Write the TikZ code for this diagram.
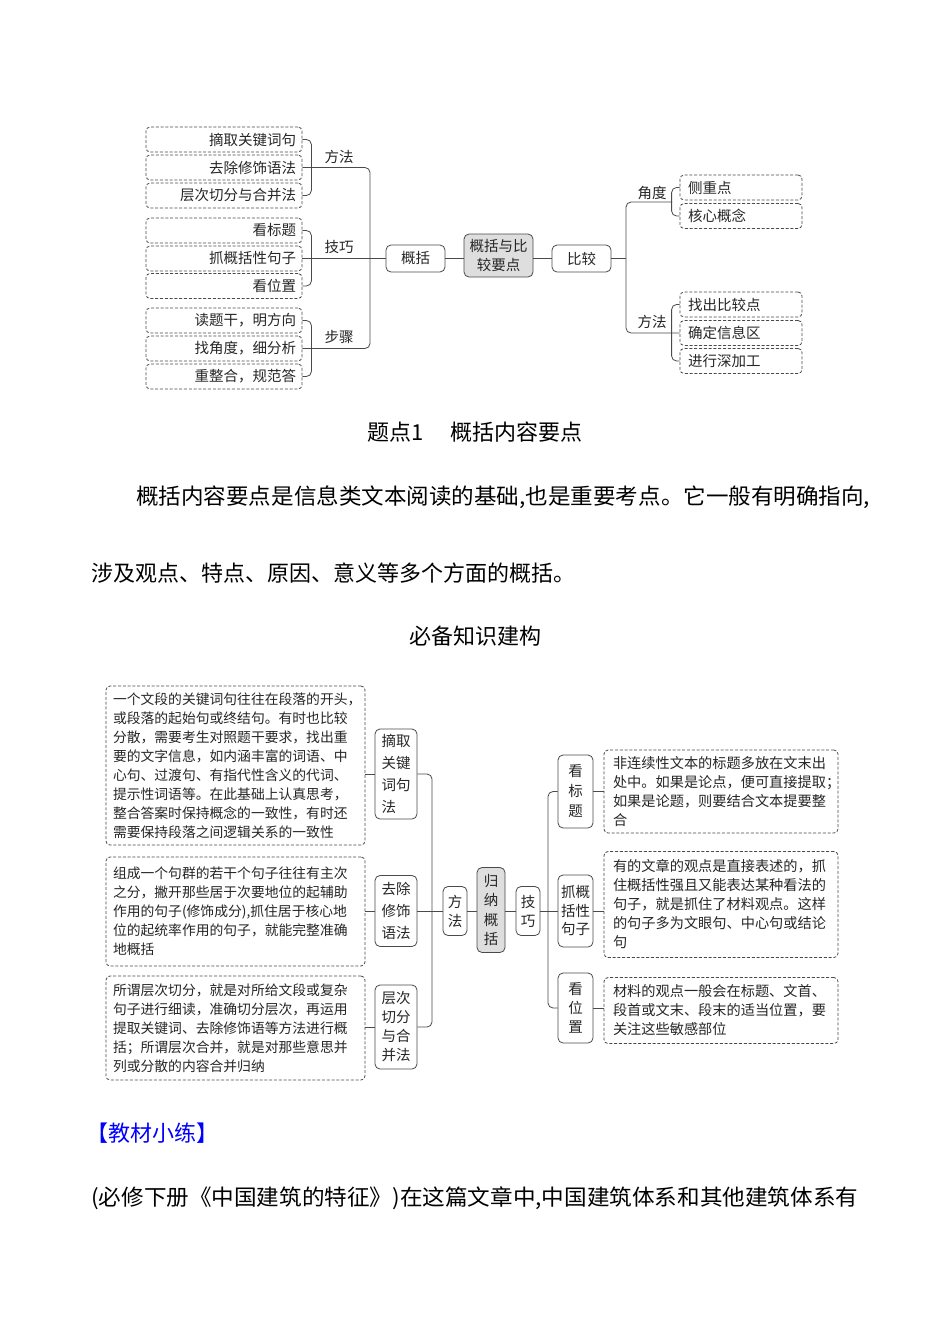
\documentclass[tikz,border=0pt]{standalone}
\usepackage{fontspec}
\setmainfont{Noto Sans CJK SC}
\usepackage{graphicx}
\newcommand\fTop{\fontsize{14.5}{19}\selectfont}
\newcommand\fLeft{\fontsize{13.8}{19}\selectfont}
\newcommand\fRight{\fontsize{14.2}{19}\selectfont}
\newcommand\fBody{\fontsize{22}{26}\selectfont}
\definecolor{lineclr}{HTML}{4A4A4A}
\definecolor{txtclr}{HTML}{262626}
\definecolor{grayfill}{HTML}{DEDEDE}
\tikzset{
  dline/.style={draw=lineclr, line width=0.8pt, dash pattern=on 3pt off 1.8pt, rounded corners=4pt},
  tboxl/.style={dline, minimum width=156pt, minimum height=25pt, text width=144pt, align=right, inner xsep=6pt, inner ysep=0pt, font=\fTop, text=txtclr},
  tboxr/.style={dline, minimum width=122pt, minimum height=25pt, text width=106pt, align=left, inner xsep=8pt, inner ysep=0pt, font=\fTop, text=txtclr},
  sbox/.style={draw=lineclr, line width=0.8pt, rounded corners=5pt, inner sep=0pt, text=txtclr},
  lbl/.style={inner sep=0pt, font=\fTop, text=txtclr},
  lbox/.style={dline, minimum width=259pt, text width=245pt, align=left, inner xsep=7pt, inner ysep=0pt, font=\fLeft, text=txtclr},
  rbox/.style={dline, minimum width=234pt, text width=216pt, align=left, inner xsep=9pt, inner ysep=0pt, font=\fRight, text=txtclr},
  conn/.style={draw=lineclr, line width=0.8pt, rounded corners=5pt},
  body/.style={inner sep=0pt, font=\fBody, text=black},
}
\begin{document}
\begin{tikzpicture}[x=1pt,y=-1pt]
\useasboundingbox (0,0) rectangle (950,1344);
\fill[white] (0,0) rectangle (950,1344);

% ---------------- top diagram ----------------
\node[tboxl] (b1) at (224,139.5) {摘取关键词句};
\node[tboxl] (b2) at (224,167.5) {去除修饰语法};
\node[tboxl] (b3) at (224,195.5) {层次切分与合并法};
\node[tboxl] (b4) at (224,230.5) {看标题};
\node[tboxl] (b5) at (224,258.5) {抓概括性句子};
\node[tboxl] (b6) at (224,286) {看位置};
\node[tboxl] (b7) at (224,320.5) {读题干，明方向};
\node[tboxl] (b8) at (224,348.5) {找角度，细分析};
\node[tboxl] (b9) at (224,376.5) {重整合，规范答};

\node[lbl] (l1) at (339,157) {方法};
\node[lbl] (l2) at (339,247) {技巧};
\node[lbl] (l3) at (339,337) {步骤};

\node[sbox, minimum width=59pt, minimum height=27pt, font=\fTop] (gk) at (415.5,258.5) {概括};
\node[sbox, fill=grayfill, minimum width=69pt, minimum height=43pt, align=center, font=\fontsize{14.5}{19}\selectfont] (zh) at (498.5,255.5) {概括与比\\较要点};
\node[sbox, minimum width=59pt, minimum height=27pt, font=\fTop] (bj) at (581.5,258.5) {比较};

\node[tboxr] (c1) at (741,187.5) {侧重点};
\node[tboxr] (c2) at (741,216) {核心概念};
\node[tboxr] (c3) at (741,304.5) {找出比较点};
\node[tboxr] (c4) at (741,333) {确定信息区};
\node[tboxr] (c5) at (741,361) {进行深加工};

\node[lbl] (l4) at (652,193) {角度};
\node[lbl] (l5) at (652,322) {方法};

\draw[conn] (b1.east) -- ++(9,0) |- (b3.east);
\draw[conn] (b4.east) -- ++(9,0) |- (b6.east);
\draw[conn] (b7.east) -- ++(9,0) |- (b9.east);
\coordinate (ltop) at (370,258.5);
\draw[conn] (b2.east) -| (ltop) |- (b8.east);
\draw[conn] (b5.east) -- (gk.west);
\draw[conn] (gk.east) -- (gk.east -| zh.west);
\draw[conn] (zh.east |- bj.west) -- (bj.west);
\coordinate (rtop) at (626,258.5);
\coordinate (jiao) at (672,202);
\draw[conn] (bj.east) -- (rtop);
\draw[conn] (jiao) -| (rtop) |- (c4.west);
\draw[conn] (c1.west) -- ++(-8,0) |- (c2.west);
\draw[conn] (c3.west) -- ++(-8,0) |- (c5.west);

% ---------------- body text ----------------
\node[body] (title) at (475,432) {题点1\hspace{26pt}概括内容要点};
\node[body, anchor=west] (p1) at (136,497) {\resizebox{734pt}{\height}{概括内容要点是信息类文本阅读的基础,也是重要考点。它一般有明确指向,}};
\node[body, anchor=west] (p2) at (91,573) {涉及观点、特点、原因、意义等多个方面的概括。};
\node[body] (sub) at (475,636) {必备知识建构};
\node[body, anchor=west, text=blue] (jc) at (86,1133) {【教材小练】};
\node[body, anchor=west] (p3) at (91,1198) {\resizebox{767pt}{\height}{(必修下册《中国建筑的特征》)在这篇文章中,中国建筑体系和其他建筑体系有}};

% ---------------- bottom diagram ----------------
\node[lbox, minimum height=159pt] (t1) at (235.5,765.5) {一个文段的关键词句往往在段落的开头，\\或段落的起始句或终结句。有时也比较\\分散，需要考生对照题干要求，找出重\\要的文字信息，如内涵丰富的词语、中\\心句、过渡句、有指代性含义的代词、\\提示性词语等。在此基础上认真思考，\\整合答案时保持概念的一致性，有时还\\需要保持段落之间逻辑关系的一致性};
\node[lbox, minimum height=109pt] (t2) at (235.5,911.5) {组成一个句群的若干个句子往往有主次\\之分，撇开那些居于次要地位的起辅助\\作用的句子(修饰成分),抓住居于核心地\\位的起统率作用的句子，就能完整准确\\地概括};
\node[lbox, minimum height=104pt] (t3) at (235.5,1028) {所谓层次切分，就是对所给文段或复杂\\句子进行细读，准确切分层次，再运用\\提取关键词、去除修饰语等方法进行概\\括；所谓层次合并，就是对那些意思并\\列或分散的内容合并归纳};

\node[sbox, minimum width=42pt, minimum height=90pt, align=left, font=\fontsize{14.5}{22}\selectfont] (m1) at (396,774) {摘取\\关键\\词句\\法};
\node[sbox, minimum width=42pt, minimum height=71pt, align=left, font=\fontsize{14.5}{22}\selectfont] (m2) at (396,911) {去除\\修饰\\语法};
\node[sbox, minimum width=42pt, minimum height=84pt, align=left, font=\fontsize{14.5}{19}\selectfont] (m3) at (396,1027) {层次\\切分\\与合\\并法};

\node[sbox, minimum width=24pt, minimum height=49pt, align=center, font=\fontsize{14.5}{19}\selectfont] (fa) at (455,911) {方\\法};
\node[sbox, fill=grayfill, minimum width=28pt, minimum height=85pt, align=center, font=\fontsize{14.5}{19.5}\selectfont] (gn) at (491,910) {归\\纳\\概\\括};
\node[sbox, minimum width=24pt, minimum height=49pt, align=center, font=\fontsize{14.5}{19}\selectfont] (jq) at (528,911) {技\\巧};

\node[sbox, minimum width=35pt, minimum height=73pt, align=center, font=\fontsize{14.5}{20}\selectfont] (r1) at (575.5,791.5) {看\\标\\题};
\node[sbox, minimum width=35pt, minimum height=72pt, align=center, font=\fontsize{14.5}{18.5}\selectfont] (r2) at (575.5,911) {抓概\\括性\\句子};
\node[sbox, minimum width=35pt, minimum height=70pt, align=center, font=\fontsize{14.5}{19}\selectfont] (r3) at (575.5,1008) {看\\位\\置};

\node[rbox, minimum height=83pt] (d1) at (721,791.5) {非连续性文本的标题多放在文末出\\处中。如果是论点，便可直接提取；\\如果是论题，则要结合文本提要整\\合};
\node[rbox, minimum height=106pt] (d2) at (721,904.5) {有的文章的观点是直接表述的，抓\\住概括性强且又能表达某种看法的\\句子，就是抓住了材料观点。这样\\的句子多为文眼句、中心句或结论\\句};
\node[rbox, minimum height=66pt] (d3) at (721,1010.5) {材料的观点一般会在标题、文首、\\段首或文末、段末的适当位置，要\\关注这些敏感部位};

\draw[conn] (m1.west) -- (m1.west -| t1.east);
\draw[conn] (m2.west) -- (m2.west -| t2.east);
\draw[conn] (m3.west) -- (m3.west -| t3.east);
\coordinate (lt) at (432,911);
\draw[conn] (m1.east) -| (lt) |- (m3.east);
\draw[conn] (m2.east) -- (fa.west);
\draw[conn] (fa.east) -- (fa.east -| gn.west);
\draw[conn] (gn.east |- jq.west) -- (jq.west);
\coordinate (rt) at (548,911);
\draw[conn] (jq.east) -- (rt);
\draw[conn] (r1.west) -| (rt) |- (r3.west);
\draw[conn] (r2.west) -- (rt);
\draw[conn] (r1.east) -- (r1.east -| d1.west);
\draw[conn] (r2.east) -- (r2.east -| d2.west);
\draw[conn] (r3.east) -- (r3.east -| d3.west);
\end{tikzpicture}
\end{document}
